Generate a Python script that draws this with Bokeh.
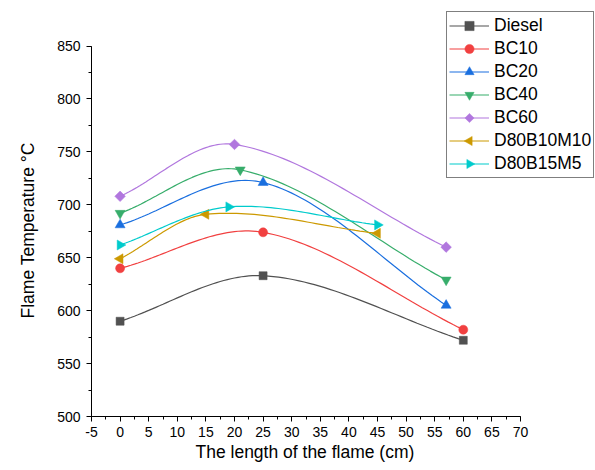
import numpy as np
from bokeh.plotting import figure
from bokeh.models import (Range1d, SingleIntervalTicker, Legend, LegendItem,
                          CustomJSTickFormatter, Title, CustomJS)
from bokeh.embed import file_html
from bokeh.resources import INLINE

# ---- data ----
names = ["Diesel", "BC10", "BC20", "BC40", "BC60", "D80B10M10", "D80B15M5"]
x_diesel = [0, 25, 60]
y_diesel = [590, 633, 572]
x_bc10 = [0, 25, 60]
y_bc10 = [640, 674, 582]
x_bc20 = [0, 25, 57]
y_bc20 = [681, 721, 605]
x_bc40 = [0, 21, 57]
y_bc40 = [692, 733, 629]
x_bc60 = [0, 20, 57]
y_bc60 = [708, 757, 660]
x_d80b10m10 = [0, 15, 45]
y_d80b10m10 = [649, 691, 673]
x_d80b15m5 = [0, 19, 45]
y_d80b15m5 = [662, 698, 681]

xs_all = [x_diesel, x_bc10, x_bc20, x_bc40, x_bc60, x_d80b10m10, x_d80b15m5]
ys_all = [y_diesel, y_bc10, y_bc20, y_bc40, y_bc60, y_d80b10m10, y_d80b15m5]

x_title = "The length of the flame (cm)"
y_title = "Flame Temperature \u00b0C"

# axis extents shown in the reference
x_axis_start, x_axis_end = -5, 70
y_axis_start, y_axis_end = 500, 850

colors = ["#515151", "#F14040", "#1A6FDF", "#37AD6B", "#B177DE", "#CC9900", "#00CBCC"]
markers = ["square", "circle", "triangle", "inverted_triangle", "@diam", "@ltri", "@rtri"]
fallback_markers = ["square", "circle", "triangle", "inverted_triangle", "square", "triangle", "triangle"]
fallback_angles = [0, 0, 0, 0, np.pi / 4, np.pi / 2, -np.pi / 2]
sizes = [8, 9, 10, 10, 10.6, 10, 10]

FONT = "Liberation Sans"

W, H = 595, 470
LEFT, BOTTOM = 91, 54
PX_X = 429 / 75.0      # pixels per x unit
PX_Y = 370.5 / 350.0   # pixels per y unit

_HEAD = """
export default function(...xs) {
  let ctx = null, i = 0, r = 0, visuals = null
  for (const x of xs) { if (x != null && typeof x === "object" && x.ctx != null) { ctx = x.ctx; i = x.i; r = x.r; visuals = x.visuals } }
  if (ctx == null && xs.length > 0 && xs[0] != null && typeof xs[0].moveTo === "function") { ctx = xs[0]; i = xs[1]; r = xs[2]; visuals = xs[3] }
  if (ctx == null) return
  const h = r*Math.sqrt(3)
  const a = h/3
  ctx.beginPath()
"""
_TAIL = """
  ctx.closePath()
  if (visuals != null && visuals.fill != null && typeof visuals.fill.apply === "function") {
    visuals.fill.apply(ctx, i)
    visuals.line.apply(ctx, i)
  } else { ctx.fill(); ctx.stroke() }
}
"""
marker_defs = {
    "@ltri": CustomJS(code=_HEAD + "  ctx.moveTo(a, -r); ctx.lineTo(a, r); ctx.lineTo(a - h, 0)\n" + _TAIL),
    "@rtri": CustomJS(code=_HEAD + "  ctx.moveTo(-a, -r); ctx.lineTo(-a, r); ctx.lineTo(h - a, 0)\n" + _TAIL),
    "@diam": CustomJS(code=_HEAD + "  ctx.moveTo(0, -r); ctx.lineTo(r, 0); ctx.lineTo(0, r); ctx.lineTo(-r, 0)\n" + _TAIL),
}


def smooth(xs, ys, n=40):
    """Cubic Hermite path through the given points (drawing only)."""
    xs = np.asarray(xs, float)
    ys = np.asarray(ys, float)
    k = len(xs)
    sec = np.diff(ys) / np.diff(xs)
    m = np.zeros(k)
    m[0] = sec[0]
    m[-1] = sec[-1]
    for i in range(1, k - 1):
        m[i] = (ys[i + 1] - ys[i - 1]) / (xs[i + 1] - xs[i - 1])
    ox, oy = [], []
    for i in range(k - 1):
        h = xs[i + 1] - xs[i]
        s = np.linspace(0, 1, n, endpoint=(i == k - 2))
        h00 = 2 * s**3 - 3 * s**2 + 1
        h10 = s**3 - 2 * s**2 + s
        h01 = -2 * s**3 + 3 * s**2
        h11 = s**3 - s**2
        ox.extend(xs[i] + s * h)
        oy.extend(h00 * ys[i] + h10 * h * m[i] + h01 * ys[i + 1] + h11 * h * m[i + 1])
    return ox, oy


frame_w = W - LEFT
frame_h = H - BOTTOM
x_end = x_axis_start + frame_w / PX_X
y_end = y_axis_start + frame_h / PX_Y

p = figure(width=W, height=H, x_range=Range1d(x_axis_start, x_end),
           y_range=Range1d(y_axis_start, y_end),
           output_backend="svg", toolbar_location=None,
           min_border_left=LEFT, min_border_right=0, min_border_top=0, min_border_bottom=BOTTOM)
p.outline_line_color = None
p.grid.visible = False
p.background_fill_color = "white"
p.border_fill_color = "white"

items = []
for k, (name, xs, ys, c) in enumerate(zip(names, xs_all, ys_all, colors)):
    cx, cy = smooth(xs, ys)
    lr = p.line(cx, cy, line_color=c, line_width=1.2)
    mk = markers[k]
    try:
        if mk.startswith("@"):
            sr = p.scatter(xs, ys, marker=mk, defs={mk: marker_defs[mk]}, size=sizes[k],
                           fill_color=c, line_color=c, line_width=0.5)
        else:
            sr = p.scatter(xs, ys, marker=mk, size=sizes[k], fill_color=c, line_color=c, line_width=0.5)
    except Exception:
        sr = p.scatter(xs, ys, marker=fallback_markers[k], angle=fallback_angles[k],
                       size=10 if k != 4 else 7.6, fill_color=c, line_color=c, line_width=0.5)
    items.append(LegendItem(label=name, renderers=[lr, sr]))

for ax in (p.xaxis[0], p.yaxis[0]):
    ax.axis_line_color = "black"
    ax.axis_line_width = 1
    ax.major_tick_line_color = "black"
    ax.minor_tick_line_color = "black"
    ax.major_tick_out = 5
    ax.major_tick_in = 0
    ax.minor_tick_out = 3
    ax.minor_tick_in = 0
    ax.major_label_text_font = FONT
    ax.major_label_text_font_size = "14px"
    ax.major_label_text_color = "black"
    ax.formatter = CustomJSTickFormatter(code="return tick.toString();")

p.xaxis.bounds = (x_axis_start, x_axis_end)
p.yaxis.bounds = (y_axis_start, y_axis_end)
p.xaxis.ticker = SingleIntervalTicker(interval=5, num_minor_ticks=2)
p.yaxis.ticker = SingleIntervalTicker(interval=50, num_minor_ticks=2)
p.xaxis.major_label_standoff = 5
p.yaxis.major_label_standoff = 6

# axis titles, centred on the drawn axis span rather than the whole frame
xt = Title(text=x_title, align="left", offset=104, standoff=4, vertical_align="top",
           text_font=FONT, text_font_size="17.5px", text_font_style="normal", text_color="black")
p.add_layout(xt, "below")
yt = Title(text=y_title, align="left", offset=98, standoff=30, vertical_align="top",
           text_font=FONT, text_font_size="17.5px", text_font_style="normal", text_color="black")
p.add_layout(yt, "left")

legend = Legend(items=items, location=(355, 238), margin=0, padding=2, spacing=0,
                glyph_width=40, glyph_height=23, label_height=23, label_standoff=5,
                label_text_font=FONT, label_text_font_size="17.5px", label_text_color="black",
                border_line_color="black", border_line_width=1, background_fill_color="white",
                background_fill_alpha=1.0)
p.add_layout(legend, "center")

open("out.html", "w").write(file_html(p, INLINE))
